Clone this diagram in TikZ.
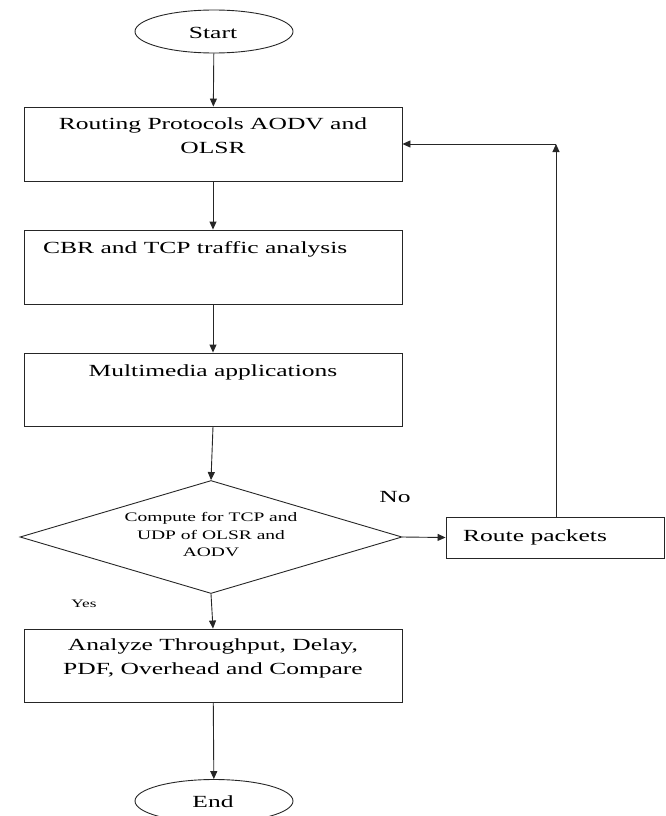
\documentclass[tikz,border=0pt]{standalone}
\usepackage{fontspec}
\setmainfont{Liberation Serif}[FakeStretch=1.5]
\usetikzlibrary{shapes.geometric,arrows.meta}
\begin{document}
\begin{tikzpicture}[x=1pt,y=-1pt,
  ln/.style={draw=black!85,line width=0.9pt},
  arr/.style={ln,-{Triangle[length=8pt,width=7pt]}},
  boxnode/.style={ln,rectangle,minimum width=378pt,inner sep=0pt},
  term/.style={ln,ellipse,minimum width=158pt,minimum height=43pt,inner sep=0pt},
  txt/.style={font=\fontsize{17}{24}\selectfont,inner sep=0pt,align=center}]
\useasboundingbox (0,0) rectangle (665,816);
% terminals
\node[term] (start) at (214,31.5) {};
\node[txt] (starttxt) at (213,33) {Start};
\node[term] (end) at (214,801) {};
\node[txt] (endtxt) at (213,802) {End};
% boxes
\node[boxnode,minimum height=74pt] (routing) at (213,144) {};
\node[txt] (routingtxt) at (213,136) {Routing Protocols AODV and\\OLSR};
\node[boxnode,minimum height=74pt] (cbr) at (213,267) {};
\node[txt,anchor=west] (cbrtxt) at (43,249) {CBR and TCP traffic analysis};
\node[boxnode,minimum height=73pt] (multi) at (213,389.5) {};
\node[txt] (multitxt) at (213,372) {Multimedia applications};
\node[ln,diamond,minimum width=382pt,minimum height=113pt,inner sep=0pt] (dia) at (211,537) {};
\node[inner sep=0pt,align=center,font=\fontsize{13}{17.5}\selectfont] (diatxt) at (211,535) {Compute for TCP and\\UDP of OLSR and\\AODV};
\node[ln,rectangle,minimum width=218pt,minimum height=41pt,inner sep=0pt] (route) at (555,537.5) {};
\node[txt,anchor=west] (routetxt) at (463,537) {Route packets};
\node[boxnode,minimum height=73pt] (analyze) at (213,665.5) {};
\node[txt] (analyzetxt) at (213,658.5) {Analyze Throughput, Delay,\\PDF, Overhead and Compare};
% labels
\node[txt] (no) at (395,497) {No};
\node[inner sep=0pt,font=\fontsize{11.5}{14}\selectfont] (yes) at (84,604) {Yes};
% connectors
\coordinate (corner) at (556,144);
\draw[arr] (start) -- (routing);
\draw[arr] (routing) -- (cbr);
\draw[arr] (cbr) -- (multi);
\draw[arr] (multi.south) -- (dia.north);
\draw[arr] (dia.east) -- (route.west);
\draw[arr] (route.north -| corner) -- (corner);
\draw[arr] (corner) -- (routing.east);
\draw[arr] (dia.south) -- (analyze.north);
\draw[arr] (analyze) -- (end);
\end{tikzpicture}
\end{document}
